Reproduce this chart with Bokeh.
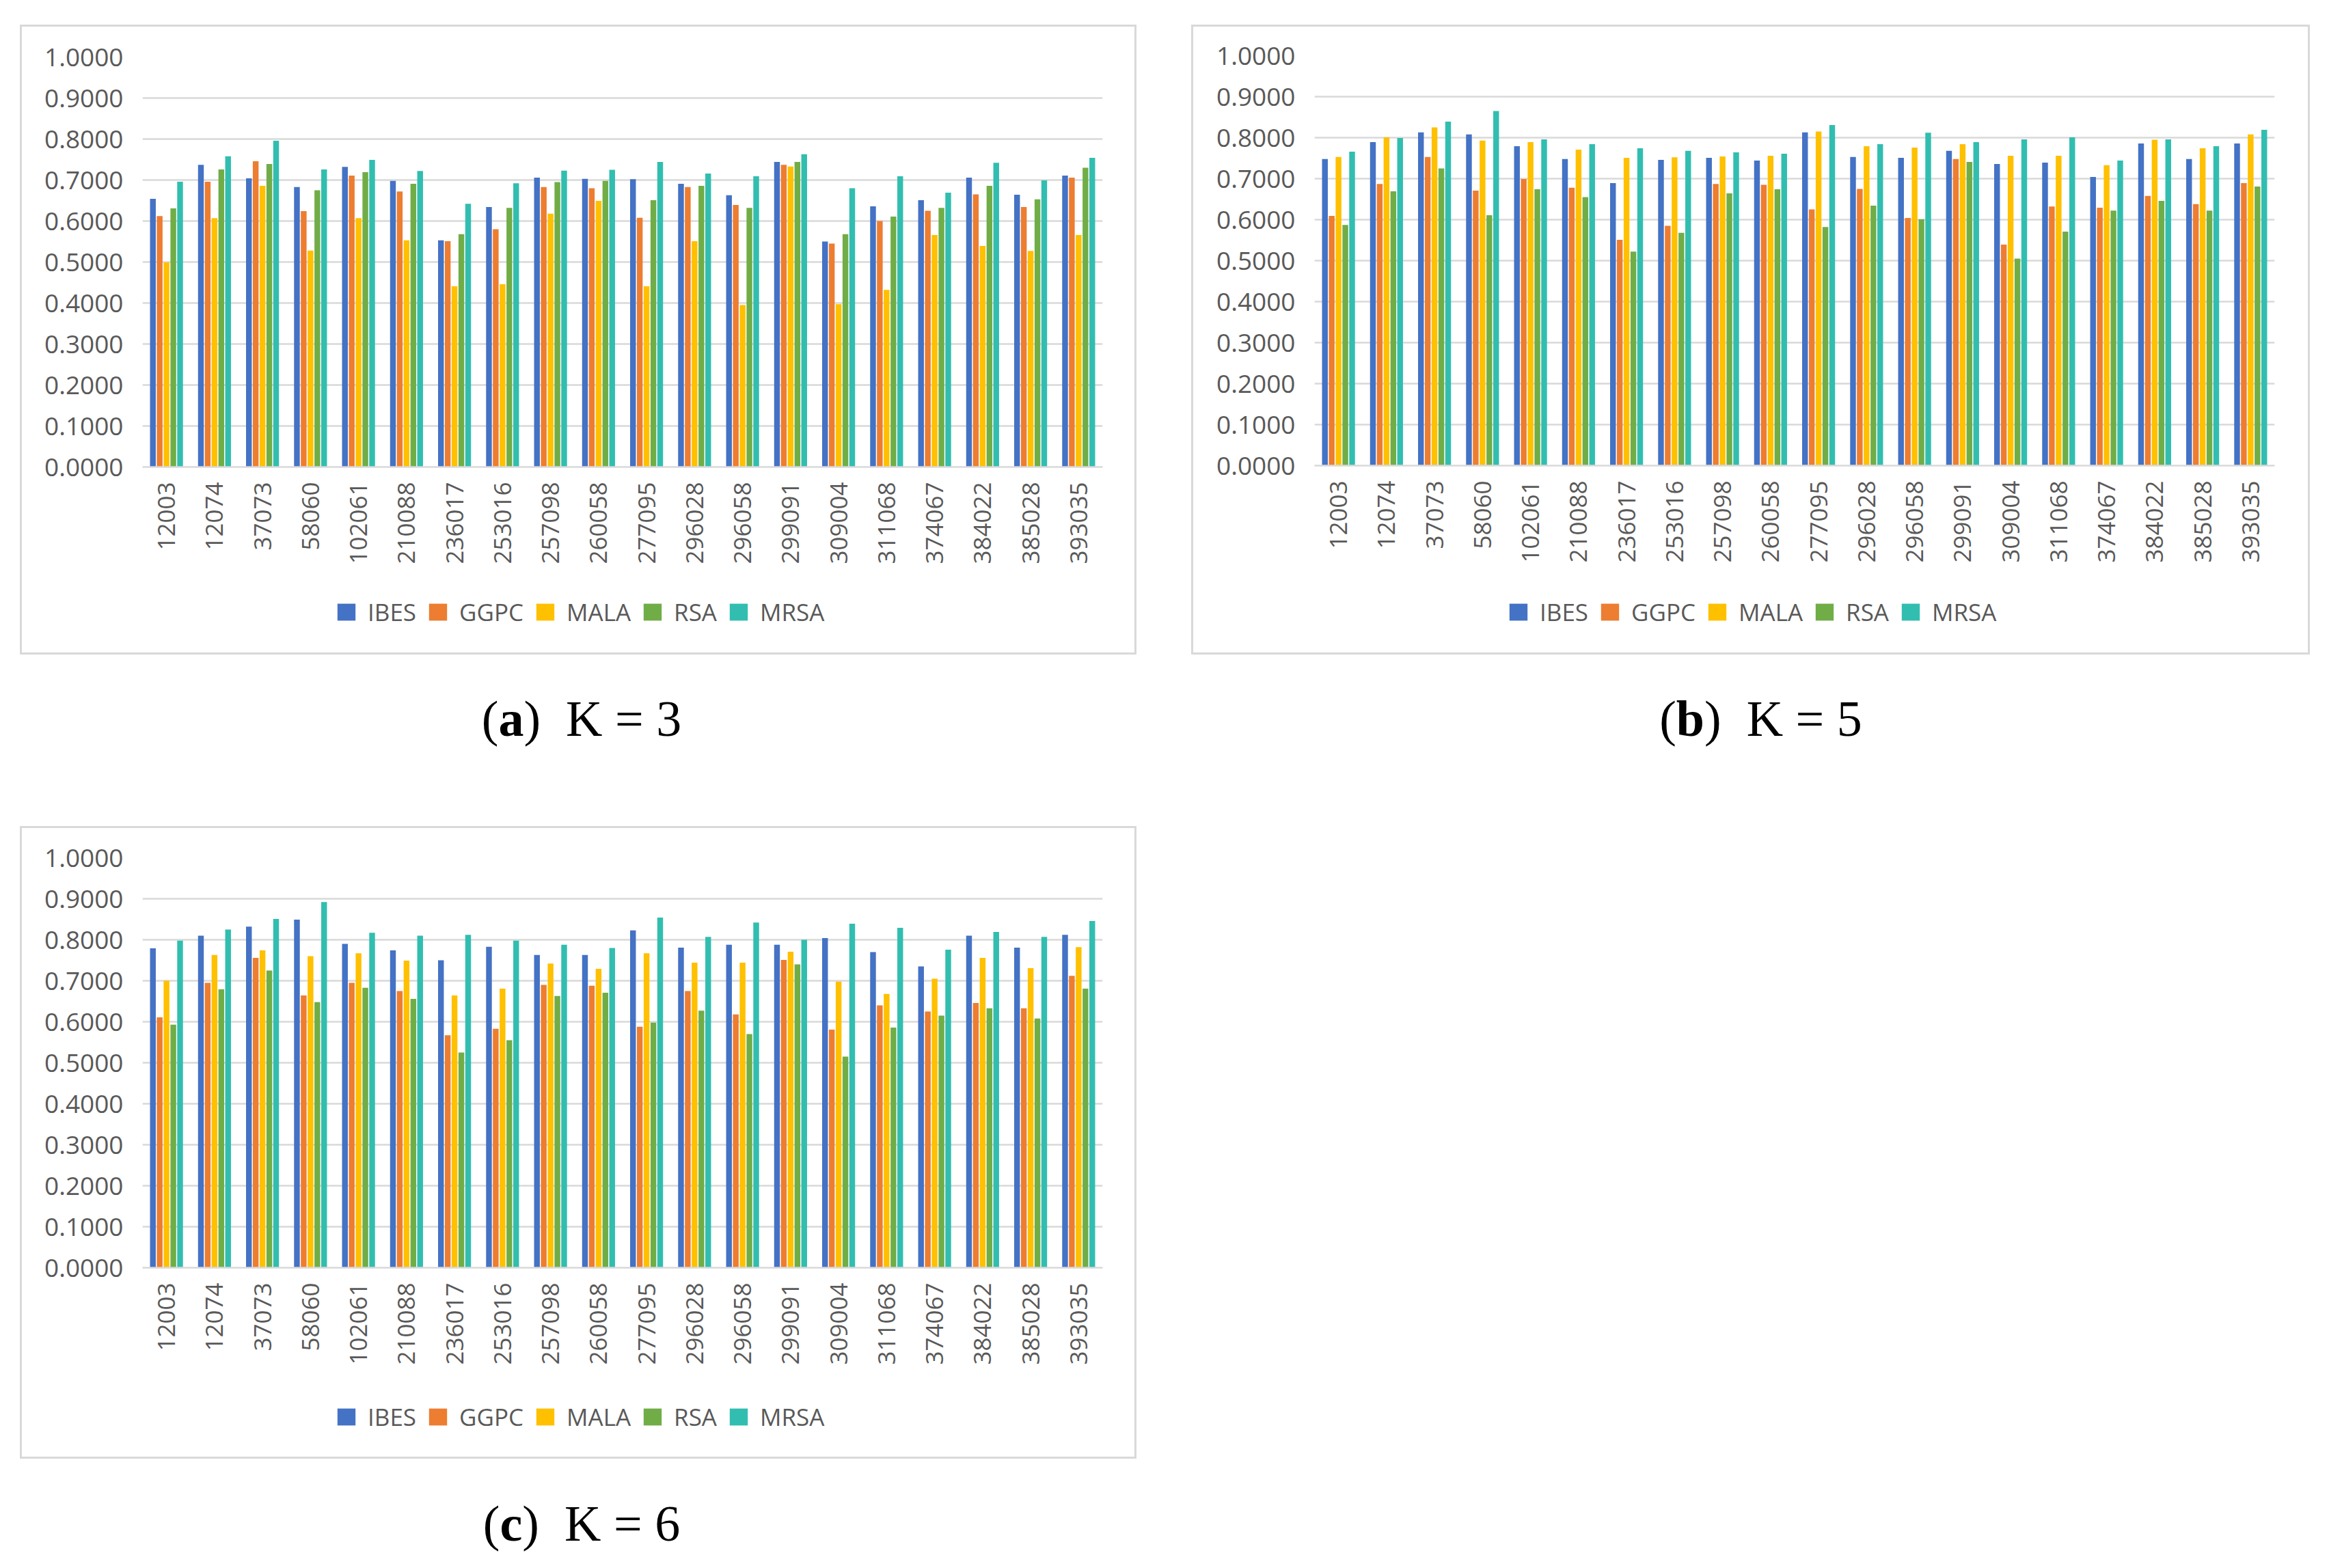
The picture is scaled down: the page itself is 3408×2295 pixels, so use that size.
import math

from bokeh.plotting import figure
from bokeh.models import (ColumnDataSource, FactorRange, FixedTicker, NumeralTickFormatter,
                          Legend, LegendItem, Div, Spacer)
from bokeh.layouts import column, row
from bokeh.transform import dodge
from bokeh.embed import file_html
from bokeh.resources import INLINE

images = ["12003", "12074", "37073", "58060", "102061", "210088", "236017", "253016",
          "257098", "260058", "277095", "296028", "296058", "299091", "309004", "311068",
          "374067", "384022", "385028", "393035"]
methods = ["IBES", "GGPC", "MALA", "RSA", "MRSA"]
colors = ["#4472C4", "#ED7D31", "#FFC000", "#70AD47", "#31BEB0"]
y_ticks = [0.0, 0.1, 0.2, 0.3, 0.4, 0.5, 0.6, 0.7, 0.8, 0.9, 1.0]

# K = 3
ibes_k3 = [0.654, 0.737, 0.704, 0.683, 0.732, 0.698, 0.553, 0.634, 0.706, 0.703,
           0.702, 0.691, 0.663, 0.744, 0.550, 0.636, 0.651, 0.706, 0.664, 0.711]
ggpc_k3 = [0.612, 0.696, 0.746, 0.624, 0.711, 0.672, 0.551, 0.580, 0.683, 0.680,
           0.608, 0.683, 0.639, 0.737, 0.545, 0.600, 0.625, 0.665, 0.634, 0.706]
mala_k3 = [0.499, 0.607, 0.686, 0.528, 0.607, 0.553, 0.441, 0.446, 0.618, 0.649,
           0.441, 0.551, 0.395, 0.733, 0.397, 0.432, 0.566, 0.539, 0.527, 0.566]
rsa_k3 = [0.631, 0.726, 0.739, 0.675, 0.719, 0.691, 0.568, 0.632, 0.695, 0.698,
          0.651, 0.686, 0.632, 0.744, 0.568, 0.611, 0.632, 0.686, 0.653, 0.730]
mrsa_k3 = [0.696, 0.758, 0.796, 0.726, 0.749, 0.722, 0.642, 0.692, 0.723, 0.725,
           0.744, 0.716, 0.709, 0.763, 0.680, 0.709, 0.669, 0.742, 0.699, 0.754]

# K = 5
ibes_k5 = [0.748, 0.789, 0.813, 0.808, 0.779, 0.748, 0.689, 0.746, 0.751, 0.744,
           0.813, 0.753, 0.751, 0.768, 0.736, 0.739, 0.704, 0.786, 0.748, 0.786]
ggpc_k5 = [0.609, 0.687, 0.753, 0.671, 0.699, 0.678, 0.551, 0.585, 0.687, 0.685,
           0.625, 0.675, 0.604, 0.748, 0.539, 0.632, 0.629, 0.658, 0.638, 0.689]
mala_k5 = [0.753, 0.801, 0.825, 0.793, 0.789, 0.771, 0.751, 0.752, 0.754, 0.756,
           0.815, 0.779, 0.776, 0.784, 0.756, 0.756, 0.733, 0.795, 0.774, 0.808]
rsa_k5 = [0.587, 0.669, 0.725, 0.611, 0.674, 0.655, 0.522, 0.568, 0.664, 0.674,
          0.582, 0.634, 0.601, 0.741, 0.505, 0.571, 0.622, 0.646, 0.622, 0.681]
mrsa_k5 = [0.766, 0.799, 0.839, 0.865, 0.796, 0.784, 0.774, 0.768, 0.764, 0.761,
           0.831, 0.784, 0.812, 0.789, 0.796, 0.801, 0.744, 0.796, 0.779, 0.819]

# K = 6
ibes_k6 = [0.779, 0.810, 0.832, 0.849, 0.790, 0.774, 0.750, 0.783, 0.763, 0.763,
           0.823, 0.781, 0.788, 0.788, 0.804, 0.770, 0.735, 0.810, 0.781, 0.812]
ggpc_k6 = [0.611, 0.695, 0.756, 0.664, 0.695, 0.675, 0.567, 0.583, 0.690, 0.688,
           0.588, 0.675, 0.618, 0.751, 0.581, 0.640, 0.625, 0.646, 0.633, 0.712]
mala_k6 = [0.700, 0.763, 0.774, 0.760, 0.767, 0.749, 0.664, 0.681, 0.742, 0.729,
           0.767, 0.744, 0.744, 0.771, 0.698, 0.668, 0.705, 0.756, 0.731, 0.782]
rsa_k6 = [0.593, 0.679, 0.725, 0.648, 0.683, 0.656, 0.525, 0.555, 0.663, 0.671,
          0.598, 0.627, 0.570, 0.740, 0.515, 0.586, 0.615, 0.633, 0.608, 0.681]
mrsa_k6 = [0.798, 0.825, 0.851, 0.892, 0.817, 0.810, 0.812, 0.798, 0.788, 0.780,
           0.854, 0.807, 0.842, 0.800, 0.839, 0.829, 0.776, 0.819, 0.807, 0.846]

GRID = "#d9d9d9"
TEXT = "#595959"
FONT = "Open Sans"
LEG_H = 94
OFFSETS = [-0.283, -0.142, 0.0, 0.142, 0.283]


def make_chart(series, width, height, left, top, leg_y):
    '''Excel-style clustered bars, with the legend strip below, in a light grey box.'''
    data = dict(image=images)
    for name, vals in zip(methods, series):
        data[name] = vals
    src = ColumnDataSource(data)

    chart_h = height - LEG_H
    p = figure(x_range=FactorRange(*images, range_padding=0), y_range=(0, 1),
               width=width, height=chart_h, toolbar_location=None, output_backend="svg",
               min_border_left=left, min_border_right=width - left - 1405,
               min_border_top=top, min_border_bottom=chart_h - top - 600,
               outline_line_color=None, background_fill_color="white",
               border_fill_color="white")

    for name, col, off in zip(methods, colors, OFFSETS):
        p.vbar(x=dodge("image", off, range=p.x_range), top=name, width=0.12,
               source=src, fill_color=col, line_color=None)

    p.ygrid.grid_line_color = GRID
    p.ygrid.grid_line_width = 2.5
    p.xgrid.grid_line_color = None

    p.yaxis.ticker = FixedTicker(ticks=y_ticks)
    p.yaxis.formatter = NumeralTickFormatter(format="0.0000")
    p.yaxis.axis_line_color = None
    p.yaxis.major_tick_line_color = None
    p.yaxis.minor_tick_line_color = None
    p.yaxis.major_tick_out = 0
    p.yaxis.major_label_standoff = 28
    p.yaxis.major_label_text_font = FONT
    p.yaxis.major_label_text_font_size = "37px"
    p.yaxis.major_label_text_color = TEXT

    p.xaxis.axis_line_color = GRID
    p.xaxis.axis_line_width = 2.5
    p.xaxis.major_tick_line_color = None
    p.xaxis.minor_tick_line_color = None
    p.xaxis.major_tick_out = 0
    p.xaxis.major_tick_in = 0
    p.xaxis.major_label_orientation = math.pi / 2
    p.xaxis.major_label_standoff = 22
    p.xaxis.major_label_text_font = FONT
    p.xaxis.major_label_text_font_size = "35px"
    p.xaxis.major_label_text_color = TEXT

    # legend strip: hidden copies of the series, only their legend swatches show
    lg = figure(x_range=p.x_range, width=width, height=LEG_H, toolbar_location=None,
                output_backend="svg", x_axis_location=None, y_axis_location=None,
                min_border=0, outline_line_color=None, border_fill_color="white")
    lg.grid.grid_line_color = None
    items = []
    for name, col, off in zip(methods, colors, OFFSETS):
        r = lg.vbar(x=dodge("image", off, range=lg.x_range), top=name, width=0.12,
                    source=src, fill_color=col, line_color=None, visible=False)
        items.append(LegendItem(label=name, renderers=[r]))
    legend = Legend(items=items, orientation="horizontal", location=(282, leg_y),
                    glyph_width=33, glyph_height=31, label_standoff=15, spacing=15,
                    padding=0, margin=0, border_line_color=None, background_fill_alpha=0,
                    inactive_fill_alpha=0,
                    label_text_font=FONT, label_text_font_size="35px",
                    label_text_color=TEXT)
    lg.add_layout(legend)

    return column(p, lg, styles={"border": "3px solid #d9d9d9"})


def caption(letter, k, width, height, pad):
    html = ('<div style="font-family:\'Liberation Serif\';font-size:74px;line-height:1;'
            'color:black;text-align:center;width:%dpx;padding-top:%dpx">'
            '(<b>%s</b>)&nbsp;&nbsp;K = %d</div>' % (width, pad, letter, k))
    return Div(text=html, width=width, height=height)


p_a = make_chart([ibes_k3, ggpc_k3, mala_k3, rsa_k3, mrsa_k3], 1628, 916, 176, 44, 36)
p_b = make_chart([ibes_k5, ggpc_k5, mala_k5, rsa_k5, mrsa_k5], 1631, 916, 177, 42, 36)
p_c = make_chart([ibes_k6, ggpc_k6, mala_k6, rsa_k6, mrsa_k6], 1628, 920, 176, 43, 35)

layout = column(
    Spacer(height=36),
    row(Spacer(width=29), p_a, Spacer(width=80), p_b),
    row(Spacer(width=29), caption("a", 3, 1634, 241, 52), Spacer(width=80),
        caption("b", 5, 1637, 241, 52)),
    row(Spacer(width=29), p_c),
    row(Spacer(width=29), caption("c", 6, 1634, 130, 53)),
)

open("out.html", "w").write(file_html(layout, INLINE))
